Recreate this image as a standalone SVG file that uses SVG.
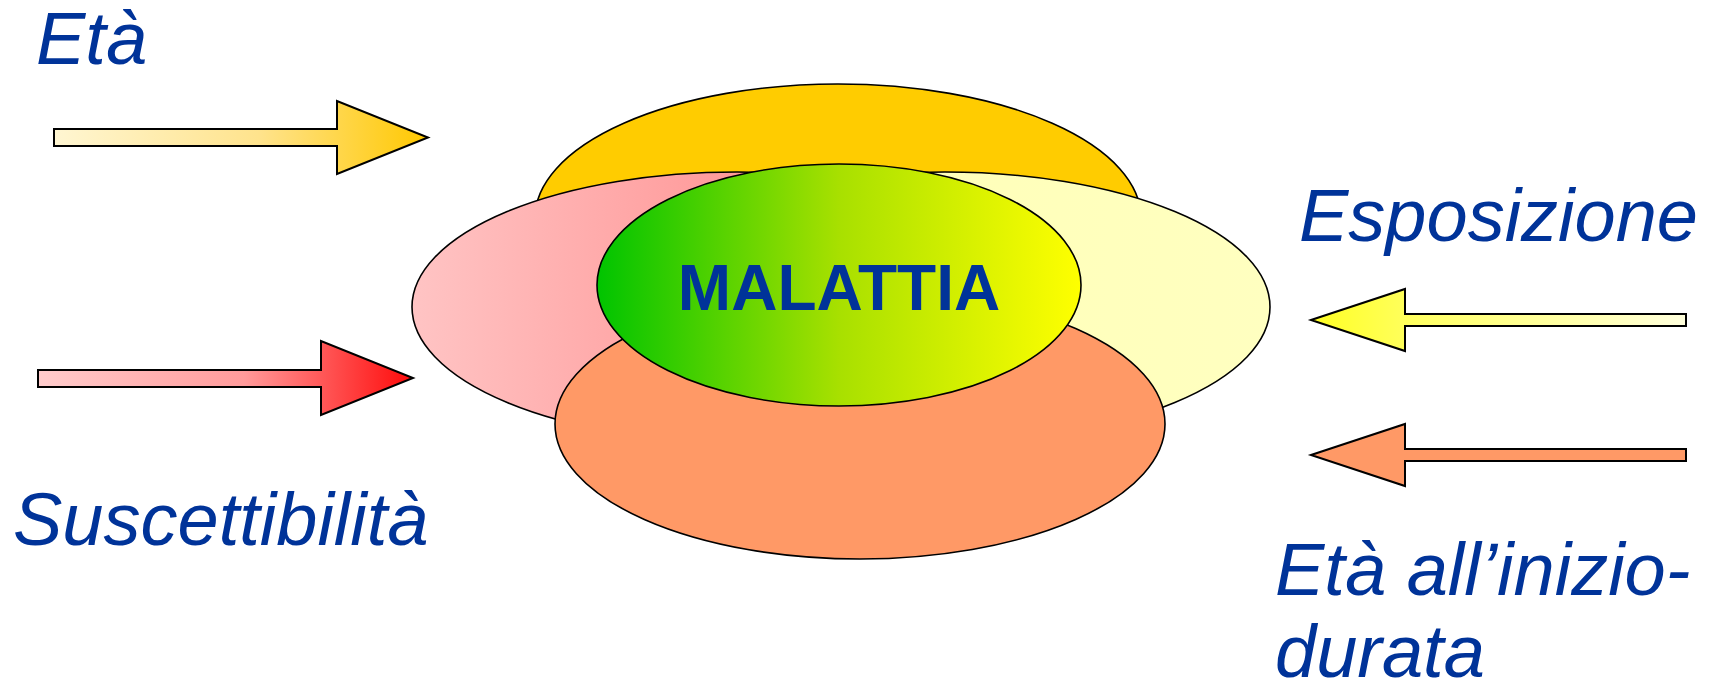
<svg xmlns="http://www.w3.org/2000/svg" width="1709" height="687" viewBox="0 0 1709 687">
<defs>
<linearGradient id="gTopArrow" x1="0" y1="0" x2="1" y2="0"><stop offset="0" stop-color="#FFF6D2"/><stop offset="0.55" stop-color="#FFE38C"/><stop offset="1" stop-color="#FFC800"/></linearGradient>
<linearGradient id="gRedArrow" x1="0" y1="0" x2="1" y2="0"><stop offset="0" stop-color="#FFCCCC"/><stop offset="0.55" stop-color="#FF9A9A"/><stop offset="1" stop-color="#FF0A0A"/></linearGradient>
<linearGradient id="gYelArrow" x1="0" y1="0" x2="1" y2="0"><stop offset="0" stop-color="#FFFF22"/><stop offset="0.3" stop-color="#FFFF66"/><stop offset="1" stop-color="#FFFFDD"/></linearGradient>
<linearGradient id="gPink" x1="0" y1="0" x2="1" y2="0"><stop offset="0" stop-color="#FFC4C4"/><stop offset="0.5" stop-color="#FF9999"/><stop offset="1" stop-color="#FF8080"/></linearGradient>
<linearGradient id="gYel" x1="0" y1="0" x2="1" y2="0"><stop offset="0" stop-color="#FFFF88"/><stop offset="0.35" stop-color="#FFFFB8"/><stop offset="1" stop-color="#FFFFC0"/></linearGradient>
<linearGradient id="gGreen" x1="0" y1="0" x2="1" y2="0"><stop offset="0" stop-color="#00C400"/><stop offset="0.5" stop-color="#A8E000"/><stop offset="1" stop-color="#FFFF00"/></linearGradient>
</defs>
<style>
.lbl{font-family:"Liberation Sans",Arial,sans-serif;font-style:italic;font-size:74px;fill:#003399}
.title{font-family:"Liberation Sans",Arial,sans-serif;font-weight:bold;font-size:64px;fill:#003399}
.sh{stroke:#000;stroke-width:1.6}
.ar{stroke:#000;stroke-width:2;stroke-linejoin:miter}
</style>
<rect width="1709" height="687" fill="#fff"/>
<g id="ellipse-top"><ellipse class="sh" cx="838" cy="218" rx="303" ry="134" fill="#FFCC00"/></g>
<g id="ellipse-left"><ellipse class="sh" cx="737" cy="307" rx="325" ry="135" fill="url(#gPink)"/></g>
<g id="ellipse-right"><ellipse class="sh" cx="945" cy="307" rx="325" ry="135" fill="url(#gYel)"/></g>
<g id="ellipse-bottom"><ellipse class="sh" cx="860" cy="424" rx="305" ry="135" fill="#FF9966"/></g>
<g id="malattia">
<ellipse class="sh" cx="839" cy="285" rx="242" ry="121" fill="url(#gGreen)"/>
<text class="title" x="839" y="310" text-anchor="middle">MALATTIA</text>
</g>
<g id="connectors">
<polygon class="ar" points="54,129 337,129 337,101 428,137.5 337,174 337,146 54,146" fill="url(#gTopArrow)"/>
<polygon class="ar" points="38,370 321,370 321,341 413,378 321,415 321,387 38,387" fill="url(#gRedArrow)"/>
<polygon class="ar" points="1311,320 1405,289 1405,314 1686,314 1686,326 1405,326 1405,351" fill="url(#gYelArrow)"/>
<polygon class="ar" points="1311,455 1405,424 1405,449 1686,449 1686,461 1405,461 1405,486" fill="#FF9966"/>
</g>
<g id="label-eta"><text class="lbl" x="36" y="64">Età</text></g>
<g id="label-suscettibilita"><text class="lbl" x="13" y="545">Suscettibilità</text></g>
<g id="label-esposizione"><text class="lbl" x="1299" y="241">Esposizione</text></g>
<g id="label-eta-inizio"><text class="lbl" x="1275" y="595">Età all’inizio-</text><text class="lbl" x="1275" y="677">durata</text></g>
</svg>
